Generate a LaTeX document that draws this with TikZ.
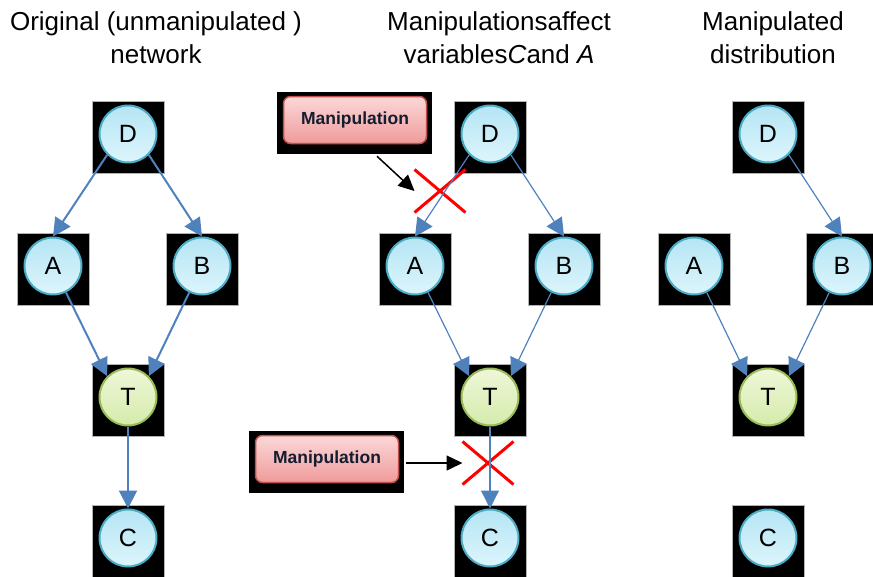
\documentclass[tikz,border=0pt]{standalone}
\usepackage{fontspec}
\setmainfont{Liberation Sans}
\usepackage{tikz}
\usetikzlibrary{arrows.meta, positioning, shapes.misc, backgrounds}

\definecolor{vartop}{HTML}{B5E5F4}
\definecolor{varbottom}{HTML}{DDF5FC}
\definecolor{varline}{HTML}{4BACC6}
\definecolor{targettop}{HTML}{EEF7D8}
\definecolor{targetbottom}{HTML}{D5EBAB}
\definecolor{targetline}{HTML}{9BBB59}
\definecolor{maniptop}{HTML}{FBD8D8}
\definecolor{manipbottom}{HTML}{EF9A9A}
\definecolor{manipline}{HTML}{C0504D}
\definecolor{maniptext}{HTML}{141C30}
\definecolor{edgeblue}{HTML}{4F81BD}

\begin{document}
\begin{tikzpicture}[
			x=1pt, y=1pt,
			on grid,
			varnode/.style = {circle, draw=varline, line width=2pt, top color=vartop, bottom color=varbottom,
					minimum size=57pt, inner sep=0pt, font=\fontsize{25}{25}\selectfont},
			targetnode/.style = {varnode, draw=targetline, top color=targettop, bottom color=targetbottom},
			manipblock/.style = {rectangle, rounded corners=7pt, draw=manipline, line width=1.5pt,
					top color=maniptop, bottom color=manipbottom, minimum width=143pt, minimum height=47pt,
					text=maniptext, font=\bfseries\fontsize{17.5}{20}\selectfont},
			title/.style = {align=center, anchor=north, inner sep=0pt, font=\fontsize{26}{33}\selectfont},
			cut/.style = {cross out, draw=red, line width=3pt, minimum width=48pt, minimum height=40pt, inner sep=0pt},
			line/.style = {draw=edgeblue, line width=2pt, -{Triangle[length=18pt,width=18pt]}},
			thinline/.style = {line, line width=1.2pt},
			manarrow/.style = {draw, line width=1.5pt, -{Triangle[length=16pt,width=15pt]}},
		]
		\useasboundingbox (0,0) rectangle (873,-576);

		% Titles
		\node [title] (title1) at (156,-11) {Original (unmanipulated )\\network};
		\node [title] (title2) at (499,-11) {Manipulationsaffect\\variables\textit{C}and \textit{A}};
		\node [title] (title3) at (773,-11) {Manipulated\\distribution};

		% Original network
		\node [varnode] (d1) at (128,-134) {D};
		\node [varnode, below left=132pt and 75pt of d1] (a1) {A};
		\node [varnode, below right=132pt and 74pt of d1] (b1) {B};
		\node [targetnode, below=263pt of d1] (t1) {T};
		\node [varnode, below=141pt of t1] (c1) {C};

		% Manipulated network
		\node [varnode] (d2) at (490,-134) {D};
		\node [varnode, below left=132pt and 75pt of d2] (a2) {A};
		\node [varnode, below right=132pt and 74pt of d2] (b2) {B};
		\node [targetnode, below=263pt of d2] (t2) {T};
		\node [varnode, below=141pt of t2] (c2) {C};

		% Manipulated distribution
		\node [varnode] (d3) at (768,-134) {D};
		\node [varnode, below left=132pt and 74pt of d3] (a3) {A};
		\node [varnode, below right=132pt and 74pt of d3] (b3) {B};
		\node [targetnode, below=263pt of d3] (t3) {T};
		\node [varnode, below=141pt of t3] (c3) {C};

		% Manipulations and cut edges
		\node [manipblock] (manip1) at (355,-120) {Manipulation};
		\node [manipblock] (manip2) at (327,-459) {Manipulation};
		\node [cut] (cut1) at (440,-191) {};
		\node [cut] (cut2) at (488,-463) {};

		% Black boxes behind the nodes
		\begin{scope}[on background layer]
			\foreach \n in {d1,a1,b1,t1,c1,d2,a2,b2,t2,c2,d3,a3,b3,t3,c3}
			\filldraw [fill=black, draw=gray!60, line width=0.8pt] (\n.center) ++(-36,-39) rectangle ++(72,72);
			\foreach \n in {manip1,manip2}
			\fill (\n.center) ++(-78,-34) rectangle ++(155,62);
		\end{scope}

		% Draw arrows
		\path [line] (d1.south west) -- (a1.north);
		\path [line] (d1.south east) -- (b1.north);
		\path [line] (a1) -- (t1.north west);
		\path [line] (b1) -- (t1.north east);
		\path [line] (t1) -- (c1);

		\path [thinline] (d2.south west) -- (a2.north);
		\path [thinline] (d2.south east) -- (b2.north);
		\path [thinline] (a2) -- (t2.north west);
		\path [thinline] (b2) -- (t2.north east);
		\path [thinline] (t2) -- (c2);

		\path [thinline] (d3.south east) -- (b3.north);
		\path [thinline] (a3) -- (t3.north west);
		\path [thinline] (b3) -- (t3.north east);

		\path [manarrow] ([xshift=22pt,yshift=-12pt]manip1.south) -- (cut1.west);
		\path [manarrow] ([xshift=7pt]manip2.east |- cut2) -- (cut2.west);
	\end{tikzpicture}
\end{document}
